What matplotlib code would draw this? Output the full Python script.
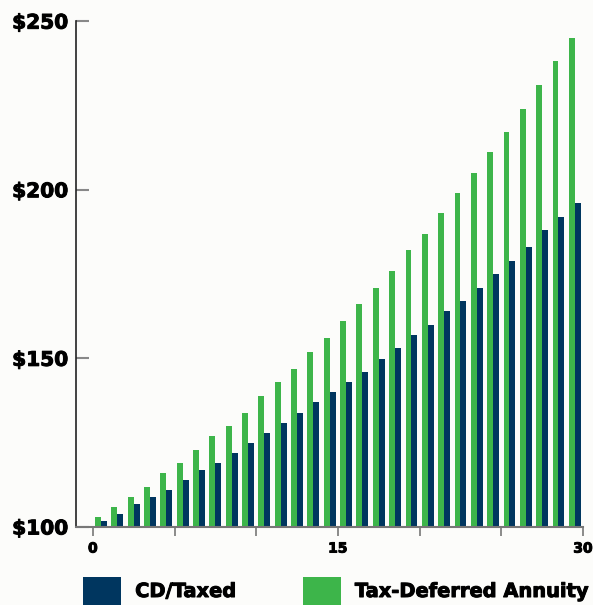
import numpy as np
import matplotlib.pyplot as plt
import matplotlib.patheffects as pe
from matplotlib.patches import Patch

# growth of $100 over 30 years
years = np.arange(1, 31)
cdTaxed = [101.8, 103.9, 106.8, 109.0, 111.1, 114.0, 117.0, 119.0, 121.9, 125.0,
           127.9, 130.9, 133.8, 137.0, 140.0, 143.0, 145.9, 149.8, 153.0, 156.9,
           159.9, 164.0, 167.0, 170.8, 175.0, 178.8, 183.0, 188.0, 191.9, 196.0]
taxDeferred = [103.0, 106.0, 109.0, 111.9, 116.0, 119.0, 122.9, 127.0, 130.0, 133.8,
               138.9, 143.0, 146.8, 151.9, 156.0, 161.0, 166.1, 170.8, 175.9, 182.1,
               186.8, 193.0, 199.0, 204.9, 211.1, 217.0, 223.9, 231.0, 238.1, 244.9]
yTicks = [100, 150, 200, 250]
yLabels = ['$100', '$150', '$200', '$250']
xTicks = [0, 5, 10, 15, 20, 25, 30]
xLabels = ['0', '', '', '15', '', '', '30']
seriesNames = ['CD/Taxed', 'Tax-Deferred Annuity']

navy = '#00365f'
green = '#3db54a'
bg = '#fcfcfa'
plt.rcParams['font.family'] = ['DejaVu Sans']
heavy = [pe.withStroke(linewidth=0.7, foreground='black')]

fig = plt.figure(figsize=(5.93, 6.05), dpi=100, facecolor=bg)
ax = fig.add_axes([0.129, 0.129, 0.854, 0.836], facecolor=bg)

w = 0.36
ax.bar(years - 0.5 - w/2, taxDeferred, width=w, color=green)
ax.bar(years - 0.5 + w/2, cdTaxed, width=w, color=navy)

ax.set_xlim(-1, 30)
ax.set_ylim(100, 250)
for s in ['top', 'right']:
    ax.spines[s].set_visible(False)
ax.spines['left'].set_color('#222222')
ax.spines['left'].set_linewidth(1.2)
ax.spines['bottom'].set_color('#777777')
ax.spines['bottom'].set_linewidth(1.5)

ax.set_yticks(yTicks)
ax.set_yticklabels(yLabels, fontsize=14.5, fontweight='bold', path_effects=heavy)
ax.tick_params(axis='y', direction='in', length=9.5, width=1.5, color='#888888', pad=6)
ax.set_xticks(xTicks)
ax.set_xticklabels(xLabels, fontsize=10, fontweight='bold', path_effects=heavy)
ax.tick_params(axis='x', direction='out', length=6.5, width=1.2, color='#777777', pad=4)

handles = [Patch(facecolor=navy), Patch(facecolor=green)]
leg = fig.legend(handles, seriesNames, loc='upper left', bbox_to_anchor=(0.14, 0.0463),
                 ncol=2, frameon=False, prop={'size': 14, 'weight': 'bold'},
                 handlelength=1.96, handleheight=1.8, handletextpad=0.72,
                 columnspacing=3.4, borderpad=0, borderaxespad=0)
for t in leg.get_texts():
    t.set_path_effects(heavy)

fig.savefig('out.png', dpi=100, facecolor=bg)
